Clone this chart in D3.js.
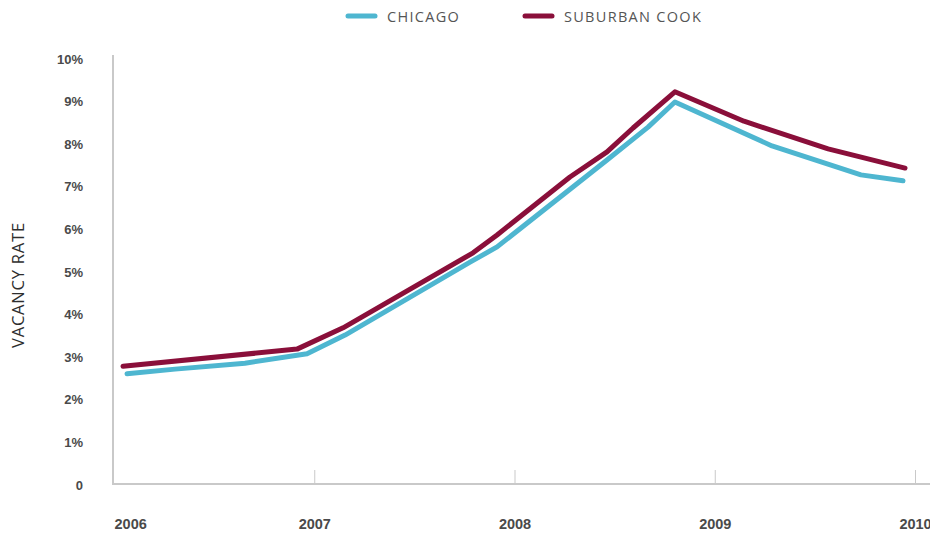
<!DOCTYPE html>
<html>
<head>
<meta charset="utf-8">
<script src="https://cdn.jsdelivr.net/npm/d3@7"></script>
<style>
  body { margin: 0; background: #fff; overflow: hidden; }
  svg { display: block; font-family: "Open Sans", sans-serif; }
</style>
</head>
<body>
<div class="chart"></div>
<script>
// values (fractional year, vacancy %)
var chicagoYears = [2006.065, 2006.305, 2006.654, 2006.964, 2007.154, 2007.778, 2007.913, 2008.462, 2008.667, 2008.801, 2009.286, 2009.730, 2009.940]
var chicagoRates = [2.61, 2.72, 2.86, 3.08, 3.52, 5.23, 5.59, 7.63, 8.40, 8.99, 7.96, 7.28, 7.14]

var suburbanYears = [2006.045, 2006.914, 2007.144, 2007.793, 2007.913, 2008.277, 2008.462, 2008.592, 2008.801, 2009.146, 2009.566, 2009.950]
var suburbanRates = [2.79, 3.19, 3.69, 5.45, 5.87, 7.23, 7.82, 8.38, 9.23, 8.54, 7.89, 7.44]

var seriesNames = ['CHICAGO', 'SUBURBAN COOK']
var xTickYears = [2006, 2007, 2008, 2009, 2010]
var yTickValues = [0, 1, 2, 3, 4, 5, 6, 7, 8, 9, 10]

var colors = ['#4eb6d0', '#8a0f3a']

var svg = d3.select('div.chart')
    .append('svg')
    .attr('width', 930)
    .attr('height', 537);

var x = d3.scaleLinear()
    .domain([2006, 2010])
    .range([114, 915]);

var y = d3.scaleLinear()
    .domain([0, 10])
    .range([485, 59]);

// y axis
var yAxis = d3.axisLeft(y)
    .tickValues(yTickValues)
    .tickSize(0)
    .tickPadding(30)
    .tickFormat(function (d) { return d === 0 ? '0' : d + '%'; });

var yg = svg.append('g')
    .attr('transform', 'translate(113,0)')
    .call(yAxis);
yg.select('.domain').remove();
yg.selectAll('text')
    .style('font-size', '13px')
    .style('font-weight', '600')
    .style('fill', '#4a4a4a');

svg.append('line')
    .attr('x1', 113).attr('x2', 113)
    .attr('y1', 55).attr('y2', 485)
    .attr('stroke', '#c9c9c9')
    .attr('stroke-width', 2);

// x axis
var xAxis = d3.axisBottom(x)
    .tickValues(xTickYears)
    .tickSize(0)
    .tickPadding(35)
    .tickFormat(d3.format('d'));

var xg = svg.append('g')
    .attr('transform', 'translate(0,484)')
    .call(xAxis);
xg.select('.domain').remove();
xg.selectAll('text')
    .style('font-size', '14.5px')
    .style('font-weight', '600')
    .style('fill', '#4a4a4a')
    .attr('text-anchor', function (d) { return d === 2006 ? 'start' : 'middle'; });

xg.selectAll('.tick')
    .filter(function (d) { return d !== 2006; })
    .append('line')
    .attr('y1', 0).attr('y2', -14)
    .attr('stroke', '#c9c9c9')
    .attr('stroke-width', 1);

svg.append('line')
    .attr('x1', 112).attr('x2', 930)
    .attr('y1', 484).attr('y2', 484)
    .attr('stroke', '#c9c9c9')
    .attr('stroke-width', 2);

// y title
svg.append('text')
    .attr('transform', 'translate(24,285) rotate(-90)')
    .attr('text-anchor', 'middle')
    .style('font-size', '16.5px')
    .style('fill', '#2e2e2e')
    .style('letter-spacing', '0.8px')
    .text('VACANCY RATE');

// lines
var line = d3.line()
    .x(function (d) { return x(d.t); })
    .y(function (d) { return y(d.v); });

var chicago = chicagoYears.map(function (t, i) { return { t: t, v: chicagoRates[i] }; });
var suburban = suburbanYears.map(function (t, i) { return { t: t, v: suburbanRates[i] }; });

[chicago, suburban].forEach(function (data, i) {
    svg.append('path')
        .datum(data)
        .attr('d', line)
        .attr('fill', 'none')
        .attr('stroke', colors[i])
        .attr('stroke-width', 5)
        .attr('stroke-linecap', 'round')
        .attr('stroke-linejoin', 'round');
});

// legend
var legendX = [348, 525];
var legend = svg.append('g');
seriesNames.forEach(function (name, i) {
    legend.append('line')
        .attr('x1', legendX[i]).attr('x2', legendX[i] + 27)
        .attr('y1', 16).attr('y2', 16)
        .attr('stroke', colors[i])
        .attr('stroke-width', 5)
        .attr('stroke-linecap', 'round');
    legend.append('text')
        .attr('x', legendX[i] + 39)
        .attr('y', 22)
        .style('font-size', '14.5px')
        .style('fill', '#555')
        .style('letter-spacing', '1.3px')
        .text(name);
});
</script>
</body>
</html>
